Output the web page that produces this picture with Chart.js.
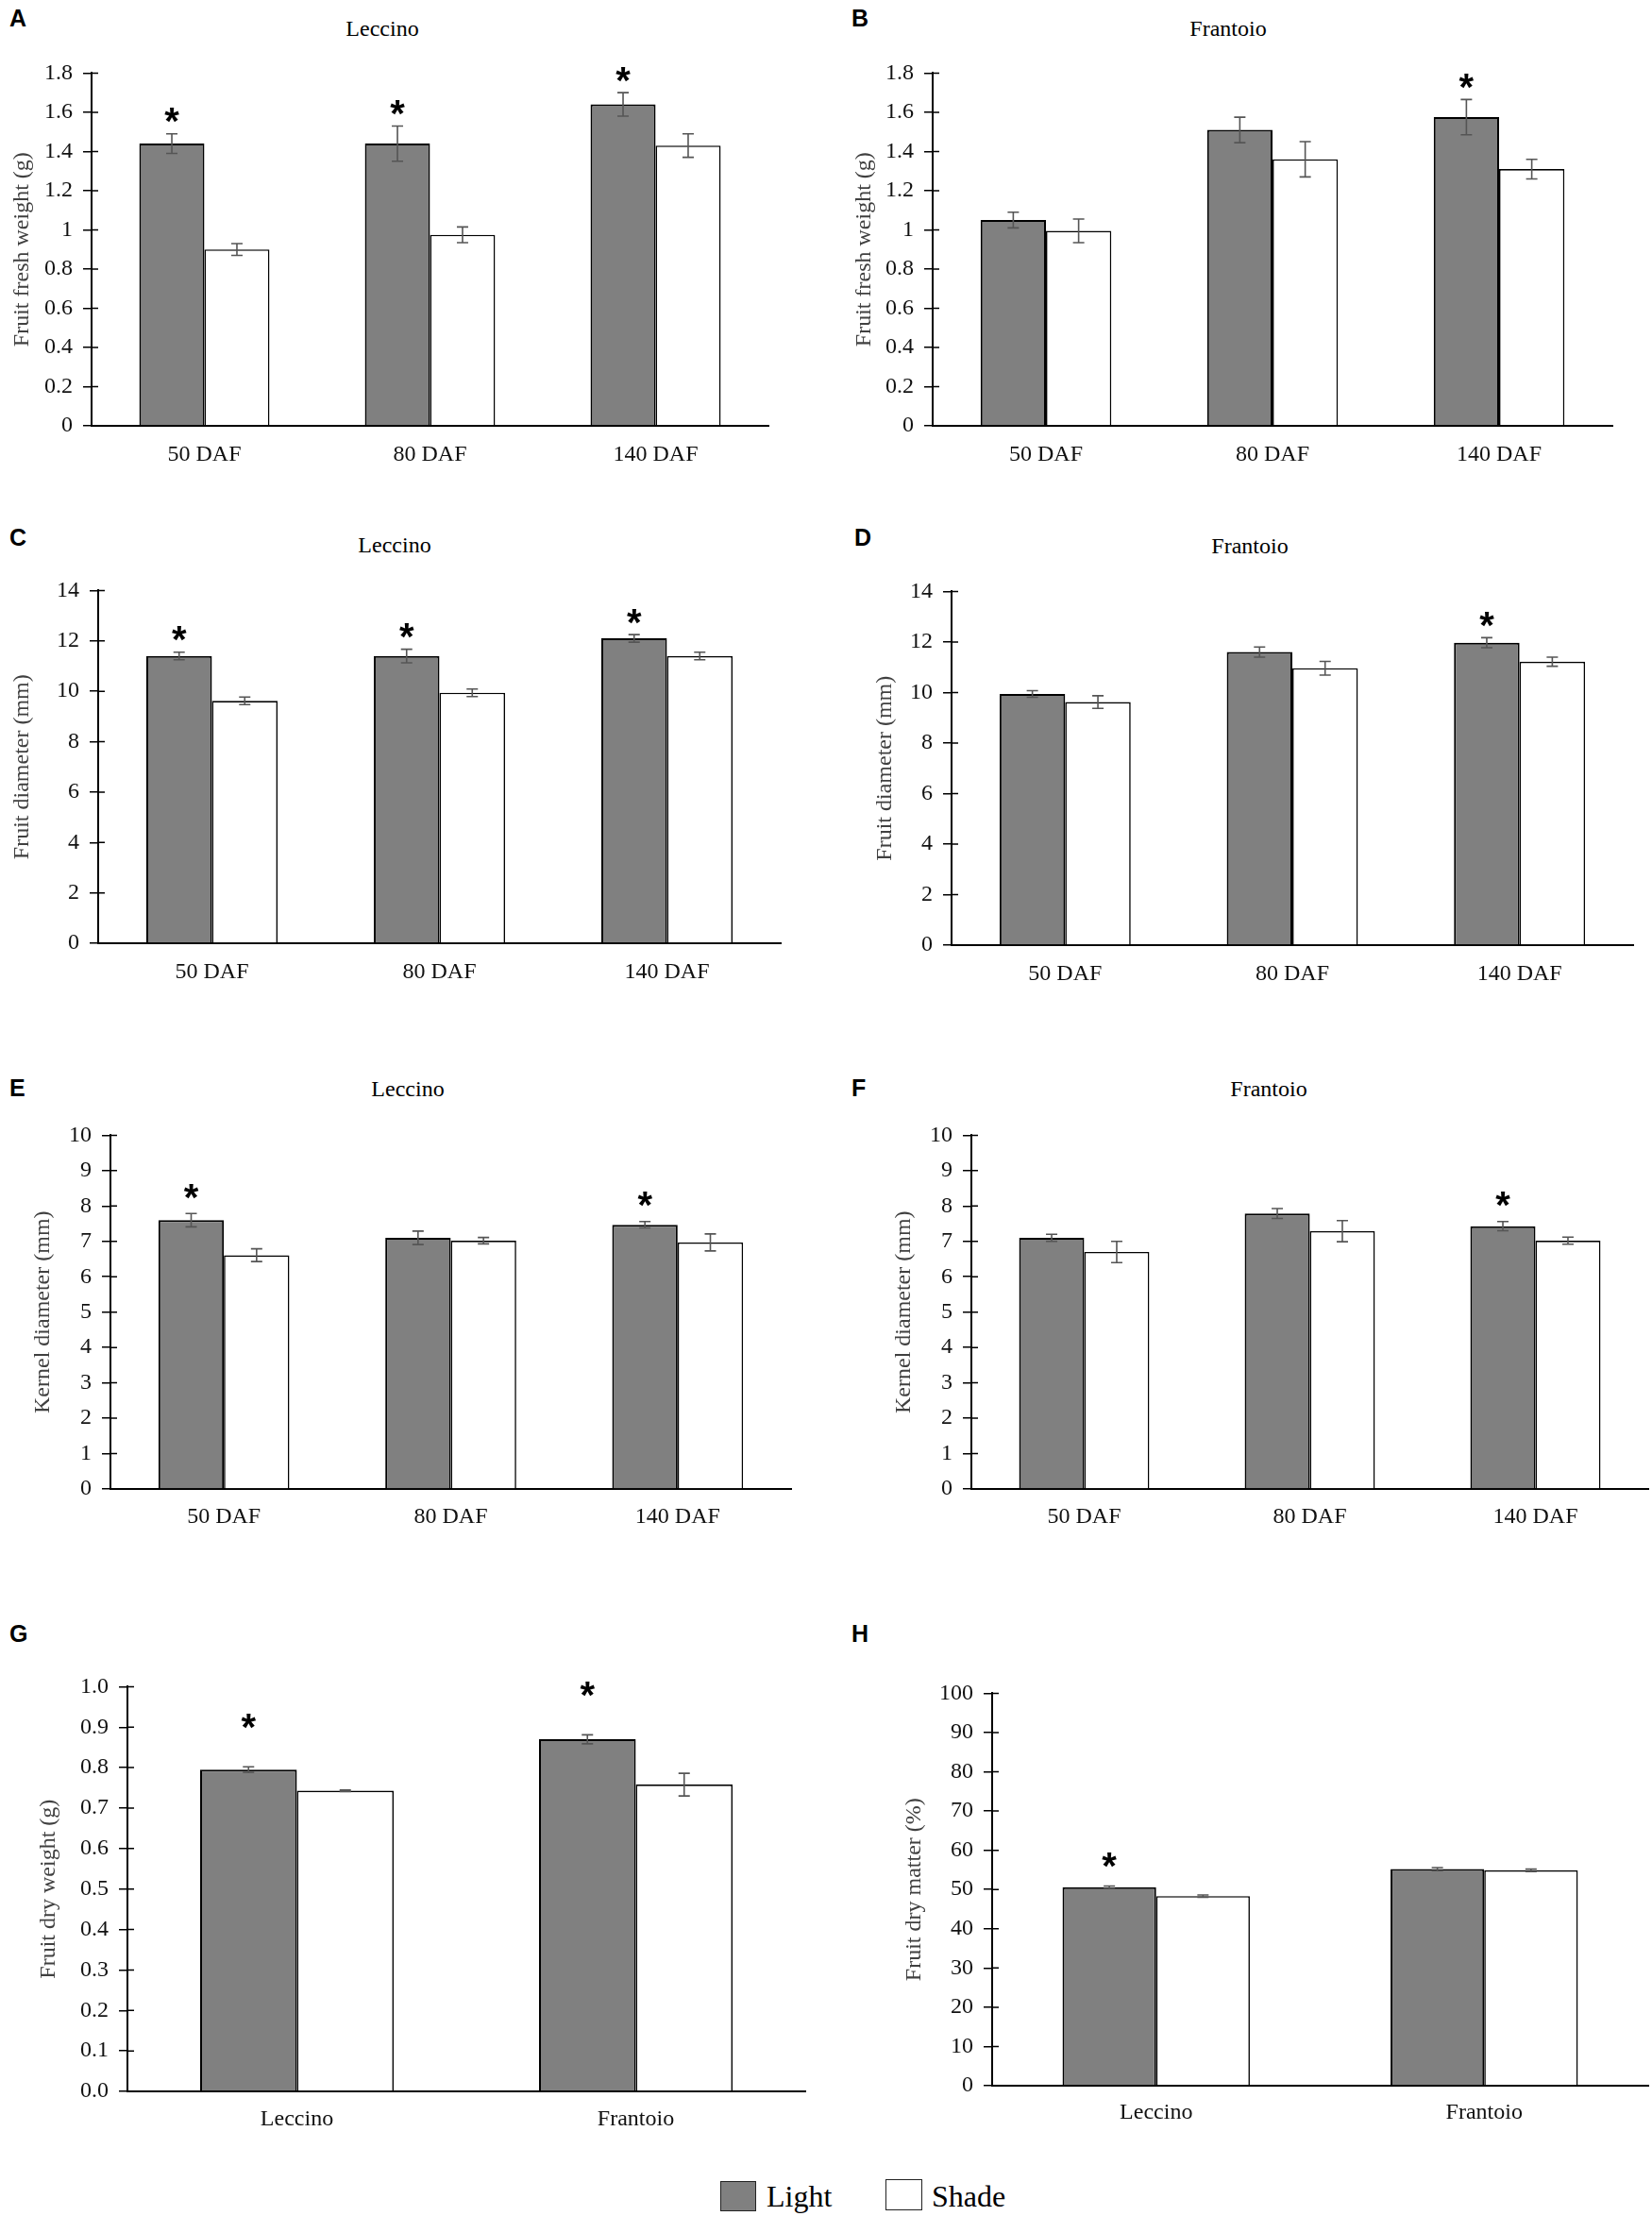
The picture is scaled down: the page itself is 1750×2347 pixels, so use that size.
<!DOCTYPE html>
<html>
<head>
<meta charset="utf-8">
<title>Fruit traits under light and shade</title>
<script src="https://cdn.jsdelivr.net/npm/chart.js"></script>
<style>
  body { margin: 0; width: 1750px; height: 2347px; background: #fff; position: relative; overflow: hidden; font-family: "Liberation Serif", serif; }
  canvas { position: absolute; }
  .letter { position: absolute; font: bold 25px "Liberation Sans", Arial, sans-serif; line-height: 1; color: #000; }
  .title { position: absolute; font-size: 24px; line-height: 1; color: #000; transform: translate(-50%, -50%); white-space: nowrap; }
  .key { position: absolute; box-sizing: border-box; border: 1.5px solid #222; }
  .keytext { position: absolute; font-size: 32px; line-height: 1; color: #000; }
</style>
</head>
<body>

<script>
// categories
const dafLabels = ['50 DAF', '80 DAF', '140 DAF'];
const cultivarLabels = ['Leccino', 'Frantoio'];
const seriesNames = ['Light', 'Shade'];

// tick labels
const freshTicks = ['0', '0.2', '0.4', '0.6', '0.8', '1', '1.2', '1.4', '1.6', '1.8'];
const diamTicks = ['0', '2', '4', '6', '8', '10', '12', '14'];
const kernelTicks = ['0', '1', '2', '3', '4', '5', '6', '7', '8', '9', '10'];
const dryWeightTicks = ['0.0', '0.1', '0.2', '0.3', '0.4', '0.5', '0.6', '0.7', '0.8', '0.9', '1.0'];
const dryMatterTicks = ['0', '10', '20', '30', '40', '50', '60', '70', '80', '90', '100'];

// A - Leccino, fruit fresh weight (g)
const leccinoFreshLight = [1.44, 1.44, 1.64];
const leccinoFreshLightErr = [0.05, 0.09, 0.06];
const leccinoFreshShade = [0.90, 0.975, 1.43];
const leccinoFreshShadeErr = [0.03, 0.04, 0.06];
const leccinoFreshSig = [true, true, true];

// B - Frantoio, fruit fresh weight (g)
const frantoioFreshLight = [1.05, 1.51, 1.575];
const frantoioFreshLightErr = [0.04, 0.065, 0.09];
const frantoioFreshShade = [0.995, 1.36, 1.31];
const frantoioFreshShadeErr = [0.06, 0.09, 0.05];
const frantoioFreshSig = [false, false, true];

// C - Leccino, fruit diameter (mm)
const leccinoDiamLight = [11.4, 11.4, 12.1];
const leccinoDiamLightErr = [0.15, 0.27, 0.15];
const leccinoDiamShade = [9.62, 9.94, 11.4];
const leccinoDiamShadeErr = [0.15, 0.15, 0.15];
const leccinoDiamSig = [true, true, true];

// D - Frantoio, fruit diameter (mm)
const frantoioDiamLight = [9.94, 11.6, 11.97];
const frantoioDiamLightErr = [0.13, 0.2, 0.2];
const frantoioDiamShade = [9.62, 10.96, 11.22];
const frantoioDiamShadeErr = [0.25, 0.27, 0.18];
const frantoioDiamSig = [false, false, true];

// E - Leccino, kernel diameter (mm)
const leccinoKernelLight = [7.6, 7.1, 7.47];
const leccinoKernelLightErr = [0.19, 0.19, 0.09];
const leccinoKernelShade = [6.61, 7.02, 6.97];
const leccinoKernelShadeErr = [0.18, 0.09, 0.24];
const leccinoKernelSig = [true, false, true];

// F - Frantoio, kernel diameter (mm)
const frantoioKernelLight = [7.1, 7.79, 7.43];
const frantoioKernelLightErr = [0.1, 0.14, 0.13];
const frantoioKernelShade = [6.7, 7.29, 7.02];
const frantoioKernelShadeErr = [0.3, 0.3, 0.1];
const frantoioKernelSig = [false, false, true];

// G - fruit dry weight (g)
const dryWeightLight = [0.795, 0.870];
const dryWeightLightErr = [0.007, 0.011];
const dryWeightShade = [0.743, 0.758];
const dryWeightShadeErr = [0.002, 0.028];
const dryWeightSig = [true, true];

// H - fruit dry matter (%)
const dryMatterLight = [50.6, 55.2];
const dryMatterLightErr = [0.3, 0.4];
const dryMatterShade = [48.3, 54.9];
const dryMatterShadeErr = [0.3, 0.3];
const dryMatterSig = [true, false];

// panel layout (page pixels)
const panels = [
  { letter: 'A', lx: 11, ly: 10, title: 'Leccino', tx: 405, ty: 30, axisX: 97, right: 814, top: 72, bottom: 451, yTitleX: 23, labelsY: 474,
    labels: dafLabels, light: leccinoFreshLight, lightErr: leccinoFreshLightErr, shade: leccinoFreshShade, shadeErr: leccinoFreshShadeErr, sig: leccinoFreshSig,
    min: 0, max: 1.8, step: 0.2, ticks: freshTicks, yTitle: 'Fruit fresh weight (g)', gap: 22 },
  { letter: 'B', lx: 903, ly: 10, title: 'Frantoio', tx: 1301, ty: 30, axisX: 988, right: 1708, top: 72, bottom: 451, yTitleX: 915, labelsY: 474,
    labels: dafLabels, light: frantoioFreshLight, lightErr: frantoioFreshLightErr, shade: frantoioFreshShade, shadeErr: frantoioFreshShadeErr, sig: frantoioFreshSig,
    min: 0, max: 1.8, step: 0.2, ticks: freshTicks, yTitle: 'Fruit fresh weight (g)', gap: 22 },
  { letter: 'C', lx: 11, ly: 560, title: 'Leccino', tx: 418, ty: 577, axisX: 104, right: 827, top: 620, bottom: 999, yTitleX: 23, labelsY: 1022,
    labels: dafLabels, light: leccinoDiamLight, lightErr: leccinoDiamLightErr, shade: leccinoDiamShade, shadeErr: leccinoDiamShadeErr, sig: leccinoDiamSig,
    min: 0, max: 14, step: 2, ticks: diamTicks, yTitle: 'Fruit diameter (mm)', gap: 22 },
  { letter: 'D', lx: 906, ly: 560, title: 'Frantoio', tx: 1324, ty: 578, axisX: 1008, right: 1730, top: 621, bottom: 1001, yTitleX: 937, labelsY: 1024,
    labels: dafLabels, light: frantoioDiamLight, lightErr: frantoioDiamLightErr, shade: frantoioDiamShade, shadeErr: frantoioDiamShadeErr, sig: frantoioDiamSig,
    min: 0, max: 14, step: 2, ticks: diamTicks, yTitle: 'Fruit diameter (mm)', gap: 22 },
  { letter: 'E', lx: 11, ly: 1143, title: 'Leccino', tx: 432, ty: 1153, axisX: 117, right: 838, top: 1197, bottom: 1577, yTitleX: 45, labelsY: 1599,
    labels: dafLabels, light: leccinoKernelLight, lightErr: leccinoKernelLightErr, shade: leccinoKernelShade, shadeErr: leccinoKernelShadeErr, sig: leccinoKernelSig,
    min: 0, max: 10, step: 1, ticks: kernelTicks, yTitle: 'Kernel diameter (mm)', gap: 26 },
  { letter: 'F', lx: 903, ly: 1143, title: 'Frantoio', tx: 1344, ty: 1153, axisX: 1029, right: 1746, top: 1197, bottom: 1577, yTitleX: 957, labelsY: 1599,
    labels: dafLabels, light: frantoioKernelLight, lightErr: frantoioKernelLightErr, shade: frantoioKernelShade, shadeErr: frantoioKernelShadeErr, sig: frantoioKernelSig,
    min: 0, max: 10, step: 1, ticks: kernelTicks, yTitle: 'Kernel diameter (mm)', gap: 26 },
  { letter: 'G', lx: 11, ly: 1721, title: '', axisX: 135, right: 853, top: 1781, bottom: 2215, yTitleX: 51, labelsY: 2237,
    labels: cultivarLabels, light: dryWeightLight, lightErr: dryWeightLightErr, shade: dryWeightShade, shadeErr: dryWeightShadeErr, sig: dryWeightSig,
    min: 0, max: 1.0, step: 0.1, ticks: dryWeightTicks, yTitle: 'Fruit dry weight (g)', gap: 51 },
  { letter: 'H', lx: 903, ly: 1721, title: '', axisX: 1051, right: 1746, top: 1788, bottom: 2209, yTitleX: 968, labelsY: 2230,
    labels: cultivarLabels, light: dryMatterLight, lightErr: dryMatterLightErr, shade: dryMatterShade, shadeErr: dryMatterShadeErr, sig: dryMatterSig,
    min: 0, max: 100, step: 10, ticks: dryMatterTicks, yTitle: 'Fruit dry matter (%)', gap: 30 }
];

// error bars + significance stars, drawn through the y scale
const errorBars = {
  id: 'errorBars',
  afterDatasetsDraw(chart, args, opts) {
    const ctx = chart.ctx;
    const y = chart.scales.y;
    chart.data.datasets.forEach((ds, i) => {
      chart.getDatasetMeta(i).data.forEach((bar, j) => {
        const v = ds.data[j], e = ds.errors[j];
        const hi = y.getPixelForValue(v + e);
        const lo = y.getPixelForValue(v - e);
        ctx.save();
        ctx.strokeStyle = '#555';
        ctx.lineWidth = 1.6;
        ctx.beginPath();
        ctx.moveTo(bar.x, hi); ctx.lineTo(bar.x, lo);
        ctx.moveTo(bar.x - 6, hi); ctx.lineTo(bar.x + 6, hi);
        ctx.moveTo(bar.x - 6, lo); ctx.lineTo(bar.x + 6, lo);
        ctx.stroke();
        if (ds.sig && ds.sig[j]) {
          ctx.fillStyle = '#000';
          ctx.font = 'bold 40px "Liberation Sans", Arial, sans-serif';
          ctx.textAlign = 'center';
          ctx.textBaseline = 'alphabetic';
          ctx.fillText('*', bar.x, hi - opts.gap + 0.56 * 40);
        }
        ctx.restore();
      });
    });
  }
};

// the inner half of the crossing y tick marks
const innerTicks = {
  id: 'innerTicks',
  afterDraw(chart) {
    const y = chart.scales.y;
    const x0 = chart.chartArea.left;
    const ctx = chart.ctx;
    ctx.save();
    ctx.strokeStyle = '#000';
    ctx.lineWidth = 1.5;
    ctx.beginPath();
    y.ticks.forEach((t, i) => {
      const py = y.getPixelForTick(i);
      ctx.moveTo(x0, py); ctx.lineTo(x0 + 7, py);
    });
    ctx.stroke();
    ctx.restore();
  }
};

const PAD_TOP = 20, X_AXIS_H = 50;
const TICK_SIZE = 24, LABEL_SIZE = 24, YTITLE_SIZE = 24;

function makePanel(p) {
  const letter = document.createElement('div');
  letter.className = 'letter';
  letter.textContent = p.letter;
  letter.style.left = (p.lx - 1) + 'px';
  letter.style.top = (p.ly - 3) + 'px';
  document.body.appendChild(letter);

  if (p.title) {
    const t = document.createElement('div');
    t.className = 'title';
    t.textContent = p.title;
    t.style.left = p.tx + 'px';
    t.style.top = p.ty + 'px';
    document.body.appendChild(t);
  }

  const left = Math.round(p.yTitleX - YTITLE_SIZE * 0.6);
  const padR = Math.min(12, 1750 - p.right);
  const c = document.createElement('canvas');
  c.width = p.right + padR - left;
  c.height = p.bottom - p.top + PAD_TOP + X_AXIS_H;
  c.style.left = left + 'px';
  c.style.top = (p.top - PAD_TOP) + 'px';
  document.body.appendChild(c);

  const catPct = p.labels.length === 3 ? 0.577 : 0.571;

  new Chart(c, {
    type: 'bar',
    data: {
      labels: p.labels,
      datasets: [
        { label: seriesNames[0], data: p.light, errors: p.lightErr, sig: p.sig,
          backgroundColor: '#808080', borderColor: '#000', borderWidth: 2 },
        { label: seriesNames[1], data: p.shade, errors: p.shadeErr,
          backgroundColor: '#fff', borderColor: '#000', borderWidth: 1.6 }
      ]
    },
    options: {
      responsive: false,
      animation: false,
      devicePixelRatio: 1,
      layout: { padding: { top: PAD_TOP, right: padR, left: 0, bottom: 0 } },
      datasets: { bar: { categoryPercentage: catPct, barPercentage: 1 } },
      plugins: { legend: { display: false }, tooltip: { enabled: false }, errorBars: { gap: p.gap } },
      scales: {
        x: {
          grid: { display: false },
          border: { display: true, color: '#000', width: 2 },
          ticks: { color: '#111', font: { family: 'Liberation Serif', size: LABEL_SIZE },
                   padding: p.labelsY - p.bottom - LABEL_SIZE * 0.6 },
          afterFit: s => { s.height = X_AXIS_H; }
        },
        y: {
          min: p.min, max: p.max,
          grid: { drawOnChartArea: false, color: '#000', lineWidth: 1.5, tickLength: 9 },
          border: { display: true, color: '#000', width: 2 },
          ticks: {
            stepSize: p.step, color: '#111', padding: 11,
            font: { family: 'Liberation Serif', size: TICK_SIZE },
            callback: v => p.ticks[Math.round((v - p.min) / p.step)]
          },
          title: { display: true, text: p.yTitle, color: '#404040', padding: 0,
                   font: { family: 'Liberation Serif', size: YTITLE_SIZE } },
          afterFit: s => { s.width = p.axisX - left; }
        }
      }
    },
    plugins: [errorBars, innerTicks]
  });
}

panels.forEach(makePanel);

// shared key at the bottom
const keyItems = [
  { name: seriesNames[0], fill: '#808080', bx: 763, by: 2310, bw: 38, bh: 32, tx: 812 },
  { name: seriesNames[1], fill: '#fff', bx: 938, by: 2308, bw: 39, bh: 33, tx: 987 }
];
keyItems.forEach(k => {
  const b = document.createElement('div');
  b.className = 'key';
  b.style.cssText = `left:${k.bx}px;top:${k.by}px;width:${k.bw}px;height:${k.bh}px;background:${k.fill}`;
  document.body.appendChild(b);
  const t = document.createElement('div');
  t.className = 'keytext';
  t.textContent = k.name;
  t.style.left = k.tx + 'px';
  t.style.top = '2310px';
  document.body.appendChild(t);
});
</script>
</body>
</html>
